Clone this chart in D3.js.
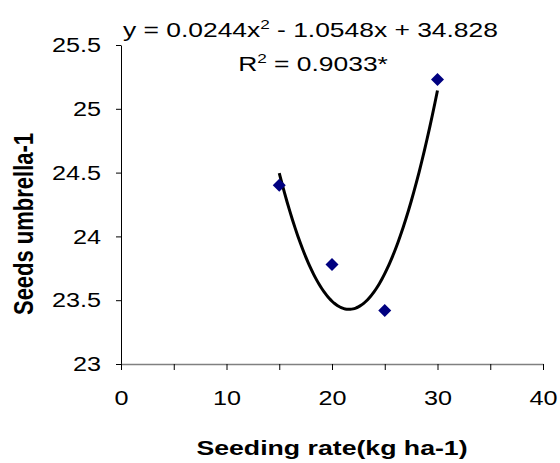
<!DOCTYPE html>
<html>
<head>
<meta charset="utf-8">
<script src="https://cdn.jsdelivr.net/npm/d3@7"></script>
<style>
  html, body { margin: 0; padding: 0; background: #fff; }
  svg { display: block; font-family: "Liberation Sans", Arial, sans-serif; }
</style>
</head>
<body>
<svg id="chart" width="560" height="463"></svg>
<script>
// Seeding rate (kg ha-1) and seeds per umbrella
const seedingRate = [15, 20, 25, 30];
const seedsPerUmbrella = [24.40, 23.78, 23.42, 25.23];

// Quadratic fit y = a x^2 + b x + c
const fitCoeffs = [0.0244, -1.0548, 34.828];
const fitR2 = "0.9033*";

const xTickValues = [0, 5, 10, 15, 20, 25, 30, 35, 40];
const xTickLabels = [0, 10, 20, 30, 40];
const yTickValues = [23, 23.5, 24, 24.5, 25, 25.5];

const stretch = 1.27; // horizontal widening of the lettering
const tickStretch = 1.2;

const svg = d3.select("#chart");

const x = d3.scaleLinear().domain([0, 40]).range([121, 543]);
const y = d3.scaleLinear().domain([23, 25.5]).range([364, 45]);

function widen(sel, k) {
  sel.each(function () {
    const t = d3.select(this);
    const tx = +t.attr("x") || 0;
    const ty = +t.attr("y") || 0;
    t.attr("x", 0).attr("y", 0)
     .attr("transform", `translate(${tx},${ty}) scale(${k},1)`);
  });
}

// Y axis
const gy = svg.append("g")
  .attr("transform", `translate(${x(0)},0)`)
  .call(d3.axisLeft(y)
    .tickValues(yTickValues)
    .tickSize(5)
    .tickSizeOuter(0)
    .tickPadding(15)
    .tickFormat(d3.format("~g")));
gy.select(".domain").attr("stroke", "#000").attr("stroke-width", 1);
gy.selectAll(".tick line").attr("stroke", "#000");
gy.selectAll(".tick text")
  .attr("font-size", 21)
  .attr("font-family", "Liberation Sans, Arial, sans-serif")
  .attr("fill", "#000");
widen(gy.selectAll(".tick text"), tickStretch);

// X axis
const gx = svg.append("g")
  .attr("transform", `translate(0,${y(23)})`)
  .call(d3.axisBottom(x)
    .tickValues(xTickValues)
    .tickSize(6)
    .tickSizeOuter(0)
    .tickPadding(20)
    .tickFormat(d => xTickLabels.includes(d) ? d3.format("d")(d) : ""));
gx.select(".domain").attr("stroke", "#808080").attr("stroke-width", 1.5);
gx.selectAll(".tick line").attr("stroke", "#000");
gx.selectAll(".tick text")
  .attr("font-size", 21)
  .attr("font-family", "Liberation Sans, Arial, sans-serif")
  .attr("fill", "#000");
widen(gx.selectAll(".tick text"), tickStretch);

// Fitted quadratic curve over the observed range
const fit = v => fitCoeffs[0] * v * v + fitCoeffs[1] * v + fitCoeffs[2];
const xMin = d3.min(seedingRate), xMax = d3.max(seedingRate);
const curvePts = d3.range(xMin, xMax + 0.001, 0.25).map(v => [v, fit(v)]);
svg.append("path")
  .datum(curvePts)
  .attr("fill", "none")
  .attr("stroke", "#000")
  .attr("stroke-width", 3)
  .attr("stroke-linejoin", "round")
  .attr("d", d3.line().x(d => x(d[0])).y(d => y(d[1])).curve(d3.curveMonotoneX));

// Observed points as diamonds
const r = 6.5;
svg.append("g").selectAll("path")
  .data(seedingRate.map((v, i) => [v, seedsPerUmbrella[i]]))
  .join("path")
  .attr("fill", "#000080")
  .attr("d", d => {
    const cx = x(d[0]), cy = y(d[1]);
    return `M${cx},${cy - r}L${cx + r},${cy}L${cx},${cy + r}L${cx - r},${cy}Z`;
  });

// Regression equation
const fmt = v => Math.abs(v).toString();
const eq = svg.append("text")
  .attr("font-size", 20)
  .attr("fill", "#000")
  .attr("transform", `translate(123,37) scale(${stretch * 1.04},1)`);
eq.append("tspan").text(`y = ${fmt(fitCoeffs[0])}x`);
eq.append("tspan").attr("dy", -8).attr("font-size", 13).text("2");
eq.append("tspan").attr("dy", 8)
  .text(` ${fitCoeffs[1] < 0 ? "-" : "+"} ${fmt(fitCoeffs[1])}x ${fitCoeffs[2] < 0 ? "-" : "+"} ${fmt(fitCoeffs[2])}`);

const r2 = svg.append("text")
  .attr("font-size", 20)
  .attr("fill", "#000")
  .attr("text-anchor", "middle")
  .attr("transform", `translate(313,71) scale(${stretch * 1.04},1)`);
r2.append("tspan").text("R");
r2.append("tspan").attr("dy", -8).attr("font-size", 13).text("2");
r2.append("tspan").attr("dy", 8).text(` = ${fitR2}`);

// Axis titles
svg.append("text")
  .attr("font-size", 21)
  .attr("font-weight", "bold")
  .attr("fill", "#000")
  .attr("text-anchor", "middle")
  .attr("transform", `translate(332,455) scale(${stretch},1)`)
  .text("Seeding rate(kg ha-1)");

svg.append("text")
  .attr("font-size", 22)
  .attr("font-weight", "bold")
  .attr("fill", "#000")
  .attr("text-anchor", "middle")
  .attr("transform", `translate(33,224) scale(${stretch},1) rotate(-90)`)
  .text("Seeds umbrella-1");
</script>
</body>
</html>
